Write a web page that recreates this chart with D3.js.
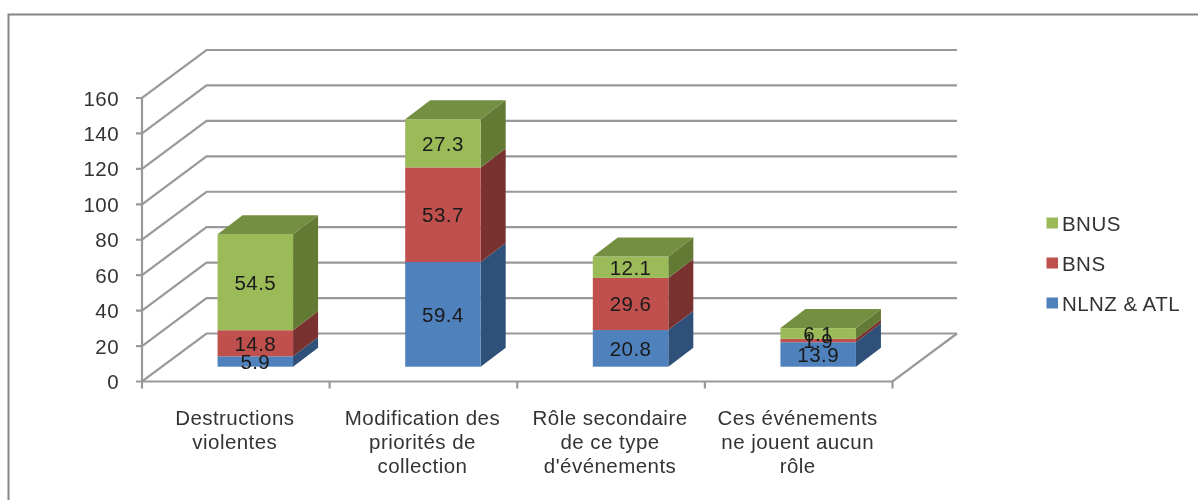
<!DOCTYPE html>
<html>
<head>
<meta charset="utf-8">
<script src="https://cdn.jsdelivr.net/npm/d3@7"></script>
<style>
  html, body { margin: 0; padding: 0; background: #fff; }
  svg { display: block; filter: blur(0.45px); }
  text { font-family: "Liberation Sans", Arial, sans-serif; font-size: 20.5px; letter-spacing: 0.45px; }
</style>
</head>
<body>
<svg id="chart" width="1198" height="500"></svg>
<script>
const categories = [
  ['Destructions', 'violentes'],
  ['Modification des', 'priorités de', 'collection'],
  ['Rôle secondaire', 'de ce type', "d'événements"],
  ['Ces événements', 'ne jouent aucun', 'rôle']
];
const nlnz = [5.9, 59.4, 20.8, 13.9];
const bns = [14.8, 53.7, 29.6, 1.9];
const bnus = [54.5, 27.3, 12.1, 6.1];
const seriesNames = ['NLNZ & ATL', 'BNS', 'BNUS'];
const yTicks = [0, 20, 40, 60, 80, 100, 120, 140, 160];

const front = ['#4f81bd', '#c0504d', '#9bbb59'];
const side = ['#2f5078', '#7a3230', '#637a35'];
const topFace = ['#3c6394', '#963e3b', '#748e42'];
const axisColor = '#999999';
const textColor = '#333333';

const svg = d3.select('#chart');
const y = d3.scaleLinear().domain([0, 160]).range([381.5, 98]);
const x = d3.scaleBand().domain(d3.range(categories.length)).range([142, 892.5]);
// bars stand further back than the axis so their scale is a little smaller
const barY = d3.scaleLinear().domain([0, 160]).range([366.7, 84.8]);

// depth of the wall and of the bars
const wallX = 64.5, wallY = -48;
const barW = 75.5, barDepthX = 25, barDepthY = -19;
const barShiftX = 19.5;

// outer frame, only the top and left edges show
svg.append('path')
  .attr('d', 'M8.5,500V14.5H1198')
  .attr('fill', 'none')
  .attr('stroke', '#868686')
  .attr('stroke-width', 2);

// walls
const grid = svg.append('g').attr('fill', 'none').attr('stroke', axisColor).attr('stroke-width', 2.2);
grid.selectAll('path.line')
  .data(yTicks)
  .join('path')
  .attr('class', 'line')
  .attr('d', d => `M136,${y(d)}H142L${142 + wallX},${y(d) + wallY}H957`);
grid.append('path').attr('d', `M142,${y(160)}V${y(0)}`);
grid.append('path').attr('d', `M142,${y(0)}H892.5L957,${y(0) + wallY}`);
grid.selectAll('path.tick')
  .data(d3.range(categories.length + 1))
  .join('path')
  .attr('class', 'tick')
  .attr('d', i => `M${142 + i * x.step()},${y(0)}V${y(0) + 7}`);

svg.selectAll('text.ytick')
  .data(yTicks)
  .join('text')
  .attr('class', 'ytick')
  .attr('x', 119)
  .attr('y', d => y(d) + 7.5)
  .attr('text-anchor', 'end')
  .attr('fill', textColor)
  .text(d => d);

// stacked bars
const rows = categories.map((c, i) => ({ i, nlnz: nlnz[i], bns: bns[i], bnus: bnus[i] }));
const stacked = d3.stack().keys(['nlnz', 'bns', 'bnus'])(rows);

const barLeft = i => x(i) + x.bandwidth() / 2 + barShiftX - barW / 2;

stacked.forEach((layer, s) => {
  const g = svg.append('g');
  layer.forEach((d, i) => {
    const l = barLeft(i), r = l + barW;
    const y0 = barY(d[0]), y1 = barY(d[1]);
    g.append('path')
      .attr('fill', side[s])
      .attr('d', `M${r},${y0}L${r + barDepthX},${y0 + barDepthY}V${y1 + barDepthY}L${r},${y1}Z`);
    g.append('rect')
      .attr('x', l).attr('y', y1)
      .attr('width', barW).attr('height', y0 - y1)
      .attr('fill', front[s]);
    if (s === stacked.length - 1) {
      g.append('path')
        .attr('fill', topFace[s])
        .attr('d', `M${l},${y1}L${l + barDepthX},${y1 + barDepthY}H${r + barDepthX}L${r},${y1}Z`);
    }
  });
});

// value labels go on top of all bars
stacked.forEach(layer => {
  layer.forEach((d, i) => {
    svg.append('text')
      .attr('x', barLeft(i) + barW / 2)
      .attr('y', barY((d[0] + d[1]) / 2) + 7.5)
      .attr('text-anchor', 'middle')
      .attr('fill', '#1a1a1a')
      .text(d3.format('.1f')(d[1] - d[0]));
  });
});

// category labels
categories.forEach((lines, i) => {
  const t = svg.append('text')
    .attr('y', 424.5)
    .attr('text-anchor', 'middle')
    .attr('fill', textColor);
  lines.forEach((line, k) => {
    t.append('tspan')
      .attr('x', x(i) + x.bandwidth() / 2 - 1)
      .attr('dy', k ? 24 : 0)
      .text(line);
  });
});

// legend, top to bottom is the reverse of the stack
const legendY = d3.scaleLinear().domain([2, 0]).range([223, 303]);
[2, 1, 0].forEach(s => {
  svg.append('rect')
    .attr('x', 1046.5).attr('y', legendY(s) - 5.5)
    .attr('width', 11.5).attr('height', 11)
    .attr('fill', front[s]);
  svg.append('text')
    .attr('x', 1062).attr('y', legendY(s) + 7.5)
    .attr('fill', textColor)
    .text(seriesNames[s]);
});
</script>
</body>
</html>
